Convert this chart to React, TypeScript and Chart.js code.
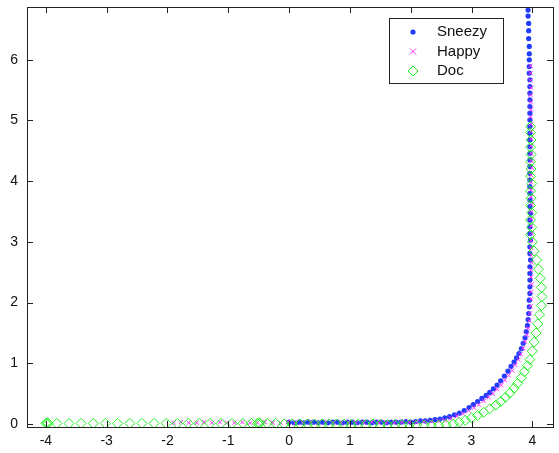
import React, { useEffect, useRef } from "react";
import { Chart, registerables } from "chart.js";
Chart.register(...registerables);

const seriesNames = ["Sneezy", "Happy", "Doc"];
const seriesColors = ["#1f3cff", "#ff33ff", "#22ee22"];
const xTickValues = [-4, -3, -2, -1, 0, 1, 2, 3, 4];
const yTickValues = [0, 1, 2, 3, 4, 5, 6];

const sneezyX = [
  0.0, 0.08, 0.16, 0.24, 0.32, 0.4, 0.48, 0.56, 0.64, 0.72, 0.8, 0.88, 0.96, 1.04, 1.12, 1.2, 1.28, 1.36, 1.44, 1.52,
  1.6, 1.68, 1.76, 1.84, 1.92, 2.0, 2.08, 2.16, 2.24, 2.32,
  2.4, 2.48, 2.56, 2.64, 2.72, 2.8, 2.88, 2.96, 3.03, 3.1, 3.17, 3.24, 3.3, 3.36, 3.42, 3.48, 3.54, 3.6, 3.65, 3.7,
  3.74, 3.78, 3.82, 3.85, 3.88, 3.9, 3.92, 3.93, 3.94, 3.95, 3.95, 3.96, 3.96,
  3.96, 3.96, 3.96, 3.97, 3.96, 3.96, 3.97, 3.96, 3.96, 3.96, 3.97, 3.96, 3.96, 3.96, 3.96, 3.96, 3.96, 3.96, 3.96, 3.96,
  3.96, 3.96, 3.96, 3.96, 3.96, 3.96, 3.96, 3.96, 3.96, 3.96, 3.96, 3.95, 3.95, 3.95, 3.95, 3.95, 3.94, 3.94, 3.94, 3.93,
  3.93,
];
const sneezyY = [
  0.03, 0.02, 0.03, 0.02, 0.03, 0.03, 0.02, 0.03, 0.02, 0.03, 0.03, 0.02, 0.03, 0.03, 0.02, 0.03, 0.03, 0.02, 0.03, 0.03,
  0.02, 0.03, 0.03, 0.03, 0.04, 0.03, 0.04, 0.05, 0.05, 0.06,
  0.07, 0.08, 0.1, 0.12, 0.15, 0.18, 0.22, 0.27, 0.32, 0.37, 0.42, 0.47, 0.52, 0.58, 0.64, 0.71, 0.79, 0.87, 0.95, 1.02,
  1.09, 1.16, 1.24, 1.33, 1.42, 1.52, 1.62, 1.72, 1.82, 1.93, 2.04, 2.15, 2.26,
  2.37, 2.48, 2.59, 2.7, 2.81, 2.92, 3.03, 3.14, 3.25, 3.36, 3.47, 3.58, 3.69, 3.8, 3.91, 4.02, 4.13, 4.24, 4.35, 4.46,
  4.57, 4.68, 4.79, 4.9, 5.01, 5.12, 5.23, 5.34, 5.45, 5.56, 5.67, 5.78, 5.89, 6.0, 6.1, 6.22, 6.35, 6.48, 6.6, 6.72,
  6.82,
];

const happyX = [
  -1.9, -1.78, -1.65, -1.52, -1.4, -1.27, -1.14, -1.02, -0.9, -0.77, -0.64, -0.52, -0.4, -0.27, -0.14, -0.02, 0.1, 0.23,
  0.36, 0.48, 0.6, 0.73, 0.86, 0.98, 1.1, 1.23, 1.36, 1.48, 1.6, 1.73, 1.86, 1.98, 2.1, 2.22, 2.34, 2.46,
  2.56, 2.66, 2.76, 2.86, 2.95, 3.04, 3.12, 3.2, 3.28, 3.35, 3.42, 3.49, 3.55, 3.61, 3.67, 3.72, 3.77, 3.81, 3.85, 3.88,
  3.91, 3.93, 3.95, 3.96, 3.97,
  3.98, 3.98, 3.99, 3.98, 3.98, 3.99, 3.98, 3.98, 3.98, 3.99, 3.98, 3.98, 3.98, 3.99, 3.98, 3.98, 3.98, 3.98, 3.99, 3.98,
  3.98, 3.98, 3.98, 3.98, 3.98, 3.97, 3.98, 3.98, 3.97, 3.98, 3.97, 3.97, 3.97,
];
const happyY = [
  0.02, 0.03, 0.02, 0.02, 0.03, 0.02, 0.03, 0.02, 0.02, 0.03, 0.02, 0.02, 0.03, 0.02, 0.02, 0.03, 0.02, 0.02, 0.03, 0.02,
  0.03, 0.02, 0.02, 0.03, 0.02, 0.02, 0.03, 0.02, 0.02, 0.02, 0.03, 0.03, 0.03, 0.04, 0.04, 0.05,
  0.06, 0.09, 0.13, 0.17, 0.22, 0.27, 0.32, 0.38, 0.44, 0.5, 0.57, 0.64, 0.72, 0.8, 0.88, 0.97, 1.06, 1.15, 1.25, 1.36,
  1.47, 1.58, 1.7, 1.82, 1.94,
  2.06, 2.18, 2.3, 2.42, 2.54, 2.66, 2.78, 2.9, 3.02, 3.14, 3.26, 3.38, 3.5, 3.62, 3.74, 3.86, 3.98, 4.1, 4.22, 4.34,
  4.46, 4.58, 4.7, 4.82, 4.94, 5.06, 5.18, 5.3, 5.42, 5.54, 5.66, 5.78, 5.9,
];

const docX = [
  -4.0, -3.98, -3.96, -3.82, -3.62, -3.42, -3.22, -3.02, -2.82, -2.62, -2.42, -2.22, -2.02, -1.84, -1.66, -1.48, -1.3,
  -1.12, -0.94, -0.76, -0.62, -0.52, -0.5, -0.48, -0.36, -0.22, -0.08, 0.05, 0.18, 0.3, 0.42, 0.54, 0.66, 0.78, 0.9,
  1.02, 1.14, 1.26, 1.38, 1.5, 1.62, 1.74, 1.86, 1.98, 2.1, 2.22, 2.34,
  2.46, 2.58, 2.7, 2.8, 2.9, 3.0, 3.1, 3.2, 3.3, 3.4, 3.48, 3.56, 3.63, 3.7, 3.76, 3.82, 3.87, 3.92, 3.96, 4.0, 4.03,
  4.06, 4.09, 4.12, 4.15, 4.16, 4.15, 4.13, 4.1, 4.07, 4.03, 4.0,
  3.97, 3.99, 3.97, 3.99, 3.97, 3.98, 3.97, 3.99, 3.97, 3.98, 3.97, 3.98, 3.97, 3.98, 3.97, 3.97,
];
const docY = [
  0.01, 0.02, 0.01, 0.01, 0.01, 0.01, 0.01, 0.01, 0.01, 0.01, 0.01, 0.01, 0.01, 0.01, 0.01, 0.01, 0.01, 0.01, 0.01, 0.01,
  0.01, 0.01, 0.02, 0.01, 0.01, 0.01, 0.0, 0.0, 0.0, 0.0, 0.0, 0.0, 0.0, 0.0, 0.0, -0.01, 0.0, -0.01, 0.0, -0.01,
  -0.01, -0.01, -0.01, -0.01, -0.02, -0.02, -0.02,
  -0.02, -0.01, 0.0, 0.03, 0.06, 0.1, 0.14, 0.19, 0.25, 0.31, 0.37, 0.44, 0.51, 0.59, 0.67, 0.76, 0.86, 0.96, 1.06,
  1.2, 1.35, 1.5, 1.65, 1.8, 1.95, 2.1, 2.25, 2.4, 2.55, 2.7, 2.85, 3.0,
  3.12, 3.24, 3.36, 3.48, 3.6, 3.72, 3.84, 3.96, 4.08, 4.2, 4.32, 4.44, 4.56, 4.68, 4.8, 4.9,
];

const toPoints = (xs: number[], ys: number[]) =>
  xs.slice(0, Math.min(xs.length, ys.length)).map((x, i) => ({ x, y: ys[i] }));

const FONT = "'Liberation Sans', Arial, sans-serif";

function drawMarker(ctx: CanvasRenderingContext2D, kind: number, x: number, y: number) {
  ctx.save();
  if (kind === 0) {
    ctx.fillStyle = seriesColors[0];
    ctx.beginPath();
    ctx.arc(x, y, 2.6, 0, Math.PI * 2);
    ctx.fill();
  } else if (kind === 1) {
    ctx.strokeStyle = seriesColors[1];
    ctx.lineWidth = 1;
    ctx.beginPath();
    ctx.moveTo(x - 3, y - 3);
    ctx.lineTo(x + 3, y + 3);
    ctx.moveTo(x + 3, y - 3);
    ctx.lineTo(x - 3, y + 3);
    ctx.stroke();
  } else {
    ctx.strokeStyle = seriesColors[2];
    ctx.lineWidth = 1;
    ctx.beginPath();
    ctx.moveTo(x, y - 5);
    ctx.lineTo(x + 5, y);
    ctx.lineTo(x, y + 5);
    ctx.lineTo(x - 5, y);
    ctx.closePath();
    ctx.stroke();
  }
  ctx.restore();
}

const zeroPad = (s: any) => {
  s.paddingTop = 0;
  s.paddingBottom = 0;
  s.paddingLeft = 0;
  s.paddingRight = 0;
};

export default function App() {
  const ref = useRef<HTMLCanvasElement>(null);
  useEffect(() => {
    document.body.style.margin = "0";
    const framePlugin = {
      id: "matlabFrame",
      afterDraw(chart: any) {
        const { ctx, chartArea } = chart;
        const { left, right, top, bottom } = chartArea;
        const xs = chart.scales.x;
        const ys = chart.scales.y;
        ctx.save();
        ctx.strokeStyle = "#222";
        ctx.lineWidth = 1;
        ctx.strokeRect(Math.round(left) + 0.5, Math.round(top) + 0.5, Math.round(right - left), Math.round(bottom - top));
        const tl = 6;
        ctx.beginPath();
        xTickValues.forEach((v) => {
          const px = Math.round(xs.getPixelForValue(v)) + 0.5;
          ctx.moveTo(px, bottom);
          ctx.lineTo(px, bottom - tl);
          ctx.moveTo(px, top);
          ctx.lineTo(px, top + tl);
        });
        yTickValues.forEach((v) => {
          const py = Math.round(ys.getPixelForValue(v)) + 0.5;
          ctx.moveTo(left, py);
          ctx.lineTo(left + tl, py);
          ctx.moveTo(right, py);
          ctx.lineTo(right - tl, py);
        });
        ctx.stroke();

        // legend
        const lx = 389, ly = 18, lw = 114, lh = 65;
        ctx.fillStyle = "#fff";
        ctx.fillRect(lx, ly, lw, lh);
        ctx.strokeStyle = "#222";
        ctx.strokeRect(lx + 0.5, ly + 0.5, lw, lh);
        ctx.font = `15px ${FONT}`;
        ctx.fillStyle = "#111";
        ctx.textBaseline = "middle";
        ctx.textAlign = "left";
        seriesNames.forEach((name, i) => {
          const cy = 32 + i * 19.5;
          drawMarker(ctx, i, 413, cy);
          ctx.fillText(name, 437, cy);
        });
        ctx.restore();
      },
    };

    const chart = new Chart(ref.current!, {
      type: "scatter",
      data: {
        datasets: [
          {
            label: seriesNames[0],
            data: toPoints(sneezyX, sneezyY),
            pointStyle: "circle",
            pointRadius: 2.6,
            pointBorderWidth: 0,
            backgroundColor: seriesColors[0],
            borderColor: seriesColors[0],
            order: 3,
          },
          {
            label: seriesNames[1],
            data: toPoints(happyX, happyY),
            pointStyle: "crossRot",
            pointRadius: 3,
            pointBorderWidth: 1,
            backgroundColor: seriesColors[1],
            borderColor: seriesColors[1],
            order: 2,
          },
          {
            label: seriesNames[2],
            data: toPoints(docX, docY),
            pointStyle: "rectRot",
            pointRadius: 5,
            pointBorderWidth: 1,
            backgroundColor: "rgba(0,0,0,0)",
            borderColor: seriesColors[2],
            order: 1,
          },
        ],
      },
      options: {
        animation: false,
        responsive: false,
        maintainAspectRatio: false,
        layout: { padding: { top: 7, right: 1, left: 0, bottom: 0 } },
        plugins: { legend: { display: false }, tooltip: { enabled: false } },
        scales: {
          x: {
            type: "linear",
            min: -4.31,
            max: 4.34,
            grid: { display: false, drawTicks: false },
            border: { display: false },
            ticks: { font: { family: FONT, size: 14 }, color: "#111", padding: 6, maxRotation: 0 },
            afterBuildTicks: (s: any) => {
              s.ticks = xTickValues.map((v) => ({ value: v }));
            },
            afterFit: (s: any) => {
              s.height = 26;
              zeroPad(s);
            },
          },
          y: {
            type: "linear",
            min: -0.05,
            max: 6.87,
            grid: { display: false, drawTicks: false },
            border: { display: false },
            ticks: { font: { family: FONT, size: 14 }, color: "#111", padding: 9 },
            afterBuildTicks: (s: any) => {
              s.ticks = yTickValues.map((v) => ({ value: v }));
            },
            afterFit: (s: any) => {
              s.width = 27;
              zeroPad(s);
            },
          },
        },
      },
      plugins: [framePlugin],
    } as any);
    return () => chart.destroy();
  }, []);
  return <canvas ref={ref} width={559} height={453} style={{ display: "block" }} />;
}
